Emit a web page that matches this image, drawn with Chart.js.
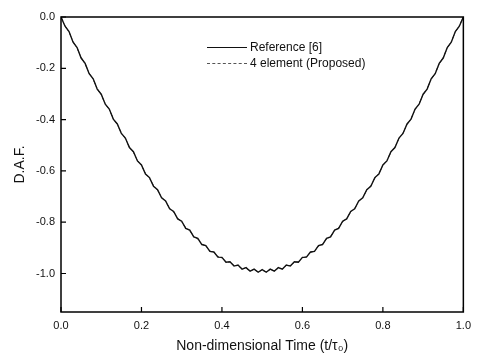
<!DOCTYPE html>
<html>
<head>
<meta charset="utf-8">
<script src="https://cdn.jsdelivr.net/npm/chart.js@4.4.1/dist/chart.umd.min.js"></script>
<style>
  html, body { margin: 0; padding: 0; background: #fff; }
  #wrap { position: relative; width: 478px; height: 359px; }
  .leg { position: absolute; left: 207px; font: 12px "Liberation Sans", Arial, sans-serif; color: #111; white-space: nowrap; }
  .leg span.ln { display: inline-block; width: 40px; height: 0; vertical-align: middle; margin-right: 3px; }
</style>
</head>
<body>
<div id="wrap">
  <canvas id="daf" width="478" height="359"></canvas>
  <div class="leg" style="top:40px"><span class="ln" style="border-top:1.2px solid #111"></span>Reference [6]</div>
  <div class="leg" style="top:56px"><span class="ln" style="border-top:1.2px dashed #555"></span>4 element (Proposed)</div>
</div>
<script>
// time t/tau0, step 0.01
const time = [
  0.00, 0.01, 0.02, 0.03, 0.04, 0.05, 0.06, 0.07, 0.08, 0.09,
  0.10, 0.11, 0.12, 0.13, 0.14, 0.15, 0.16, 0.17, 0.18, 0.19,
  0.20, 0.21, 0.22, 0.23, 0.24, 0.25, 0.26, 0.27, 0.28, 0.29,
  0.30, 0.31, 0.32, 0.33, 0.34, 0.35, 0.36, 0.37, 0.38, 0.39,
  0.40, 0.41, 0.42, 0.43, 0.44, 0.45, 0.46, 0.47, 0.48, 0.49,
  0.50, 0.51, 0.52, 0.53, 0.54, 0.55, 0.56, 0.57, 0.58, 0.59,
  0.60, 0.61, 0.62, 0.63, 0.64, 0.65, 0.66, 0.67, 0.68, 0.69,
  0.70, 0.71, 0.72, 0.73, 0.74, 0.75, 0.76, 0.77, 0.78, 0.79,
  0.80, 0.81, 0.82, 0.83, 0.84, 0.85, 0.86, 0.87, 0.88, 0.89,
  0.90, 0.91, 0.92, 0.93, 0.94, 0.95, 0.96, 0.97, 0.98, 0.99,
  1.00
]

// D.A.F. (with the small ripple)
const reference = [
  0, -0.036, -0.057, -0.098, -0.119, -0.160, -0.181, -0.221, -0.241, -0.281,
  -0.301, -0.340, -0.359, -0.398, -0.417, -0.454, -0.472, -0.509, -0.525, -0.561,
  -0.577, -0.612, -0.626, -0.660, -0.673, -0.705, -0.717, -0.748, -0.758, -0.787,
  -0.796, -0.824, -0.831, -0.857, -0.863, -0.887, -0.891, -0.914, -0.916, -0.936,
  -0.937, -0.956, -0.954, -0.971, -0.967, -0.983, -0.977, -0.991, -0.983, -0.995,
  -0.985, -0.995, -0.983, -0.991, -0.977, -0.983, -0.967, -0.971, -0.954, -0.956,
  -0.937, -0.936, -0.916, -0.914, -0.891, -0.887, -0.863, -0.857, -0.831, -0.824,
  -0.796, -0.787, -0.758, -0.748, -0.717, -0.705, -0.673, -0.660, -0.626, -0.612,
  -0.577, -0.561, -0.525, -0.509, -0.472, -0.454, -0.417, -0.398, -0.359, -0.340,
  -0.301, -0.281, -0.241, -0.221, -0.181, -0.160, -0.119, -0.098, -0.057, -0.036,
  0
]

const proposed = [
  0, -0.034, -0.059, -0.096, -0.121, -0.158, -0.183, -0.219, -0.243, -0.279,
  -0.303, -0.338, -0.361, -0.396, -0.419, -0.452, -0.474, -0.507, -0.527, -0.559,
  -0.579, -0.610, -0.628, -0.658, -0.675, -0.703, -0.719, -0.746, -0.760, -0.785,
  -0.798, -0.822, -0.833, -0.855, -0.865, -0.885, -0.893, -0.912, -0.918, -0.934,
  -0.939, -0.954, -0.956, -0.969, -0.969, -0.981, -0.979, -0.989, -0.985, -0.993,
  -0.987, -0.993, -0.985, -0.989, -0.979, -0.981, -0.969, -0.969, -0.956, -0.954,
  -0.939, -0.934, -0.918, -0.912, -0.893, -0.885, -0.865, -0.855, -0.833, -0.822,
  -0.798, -0.785, -0.760, -0.746, -0.719, -0.703, -0.675, -0.658, -0.628, -0.610,
  -0.579, -0.559, -0.527, -0.507, -0.474, -0.452, -0.419, -0.396, -0.361, -0.338,
  -0.303, -0.279, -0.243, -0.219, -0.183, -0.158, -0.121, -0.096, -0.059, -0.034,
  0
]

const xTicks = [0.0, 0.2, 0.4, 0.6, 0.8, 1.0]
const yTicks = [-1.0, -0.8, -0.6, -0.4, -0.2, 0.0]

const toPoints = (xs, ys) => xs.map((x, i) => ({ x: x, y: ys[i] }))

// box around the plot + inward tick marks
const frame = {
    id: 'frame',
    afterDraw(chart) {
        const { ctx, chartArea: a, scales } = chart
        ctx.save()
        ctx.strokeStyle = '#000'
        ctx.lineWidth = 1.5
        ctx.strokeRect(a.left, a.top, a.right - a.left, a.bottom - a.top)
        ctx.lineWidth = 1.2
        ctx.beginPath()
        xTicks.forEach(v => {
            const px = scales.x.getPixelForValue(v)
            ctx.moveTo(px, a.bottom)
            ctx.lineTo(px, a.bottom - 5)
        })
        yTicks.forEach(v => {
            const py = scales.y.getPixelForValue(v)
            ctx.moveTo(a.left, py)
            ctx.lineTo(a.left + 5, py)
        })
        ctx.stroke()
        ctx.restore()
    }
}

const font = '"Liberation Sans", Arial, sans-serif'

new Chart(document.getElementById('daf'), {
    type: 'line',
    data: {
        datasets: [{
            label: 'Reference [6]',
            data: toPoints(time, reference),
            borderColor: '#111',
            borderWidth: 1.4,
            pointRadius: 0,
            tension: 0
        }, {
            label: '4 element (Proposed)',
            data: toPoints(time, proposed),
            borderColor: '#444',
            borderWidth: 1,
            borderDash: [4, 2, 1, 2],
            pointRadius: 0,
            tension: 0
        }]
    },
    options: {
        responsive: false,
        animation: false,
        layout: { padding: { top: 17, right: 7, left: 0, bottom: 0 } },
        plugins: {
            legend: { display: false },
            tooltip: { enabled: false }
        },
        scales: {
            x: {
                type: 'linear',
                min: 0,
                max: 1,
                afterFit: s => { s.height = 47 },
                grid: { display: false, drawTicks: false },
                border: { display: false },
                ticks: {
                    stepSize: 0.2,
                    padding: 7,
                    color: '#111',
                    font: { family: font, size: 11 },
                    maxRotation: 0,
                    callback: v => v.toFixed(1)
                },
                title: {
                    display: true,
                    text: 'Non-dimensional Time (t/τ₀)',
                    color: '#111',
                    font: { family: font, size: 14 },
                    padding: { top: 4, bottom: 4 }
                }
            },
            y: {
                min: -1.15,
                max: 0,
                afterFit: s => { s.width = 61 },
                grid: { display: false, drawTicks: false },
                border: { display: false },
                ticks: {
                    stepSize: 0.2,
                    includeBounds: false,
                    padding: 6,
                    color: '#111',
                    font: { family: font, size: 11 },
                    callback: v => v.toFixed(1)
                },
                title: {
                    display: true,
                    text: 'D.A.F.',
                    color: '#111',
                    font: { family: font, size: 14 },
                    padding: { top: 12, bottom: 0 }
                }
            }
        }
    },
    plugins: [frame]
})
</script>
</body>
</html>
